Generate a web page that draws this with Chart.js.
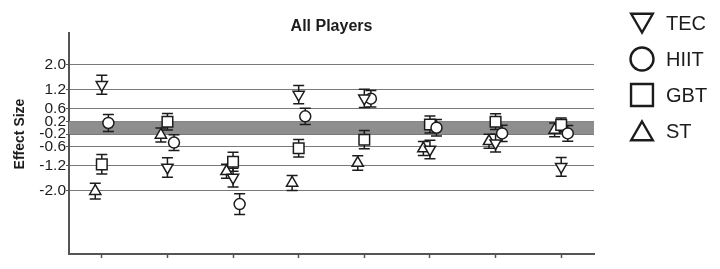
<!DOCTYPE html>
<html lang="en">
<head>
<meta charset="UTF-8">
<title>All Players</title>
<script src="https://cdn.jsdelivr.net/npm/chart.js"></script>
<style>
  body { margin: 0; background: #fff; }
  #wrap { width: 720px; height: 269px; position: relative; }
</style>
</head>
<body>
<div id="wrap"><canvas id="grafica"></canvas></div>
<script>
// 8 outcome measures (unlabelled on the x axis)
const categories = [1, 2, 3, 4, 5, 6, 7, 8];
const yTicks = [2.0, 1.2, 0.6, 0.2, -0.2, -0.6, -1.2, -2.0];
const band = [-0.2, 0.2];

const tecMean  = [1.36, -1.26, -1.58, 1.05, 0.93, -0.69, -0.49, -1.24];
const tecErr   = [0.30, 0.31, 0.30, 0.29, 0.29, 0.29, 0.28, 0.30];
const hiitMean = [0.15, -0.47, -2.42, 0.36, 0.92, 0.00, -0.18, -0.18];
const hiitErr  = [0.27, 0.25, 0.33, 0.26, 0.26, 0.26, 0.26, 0.25];
const gbtMean  = [-1.16, 0.19, -1.08, -0.65, -0.38, 0.10, 0.19, 0.09];
const gbtErr   = [0.31, 0.26, 0.30, 0.28, 0.29, 0.27, 0.25, 0.22];
const stMean   = [-2.01, -0.23, -1.38, -1.75, -1.12, -0.66, -0.43, -0.07];
const stErr    = [0.25, 0.22, 0.22, 0.24, 0.23, 0.22, 0.22, 0.22];

const ink = '#1c1c1c';
Chart.defaults.font.family = "'Liberation Sans', Arial, sans-serif";
Chart.defaults.color = ink;

const serie = (label, means, errs, shift, style, rot, r) => ({
  label, errs,
  data: means.map((v, i) => ({ x: categories[i] + shift, y: v })),
  pointStyle: style, rotation: rot, pointRadius: r, pointHoverRadius: r,
  borderColor: ink, backgroundColor: '#fff', borderWidth: 1.5
});

const datasets = [
  serie('TEC', tecMean, tecErr, 0, 'triangle', 180, 6.5),
  serie('HIIT', hiitMean, hiitErr, 0.1, 'circle', 0, 5.5),
  serie('GBT', gbtMean, gbtErr, 0, 'rect', 0, 7.5),
  serie('ST', stMean, stErr, -0.1, 'triangle', 0, 6.5)
];

const extras = {
  id: 'extras',
  beforeDatasetsDraw(chart) {
    const { ctx, chartArea: a, scales: { x, y } } = chart;
    ctx.save();
    // zona gris entre -0.2 y 0.2
    ctx.fillStyle = '#8e8e8e';
    const y1 = y.getPixelForValue(band[1]), y0 = y.getPixelForValue(band[0]);
    ctx.fillRect(a.left, y1, a.right - a.left, y0 - y1);
    // barras de error
    ctx.strokeStyle = ink; ctx.lineWidth = 1.5;
    chart.data.datasets.forEach(ds => {
      ds.data.forEach((p, i) => {
        const px = x.getPixelForValue(p.x);
        const top = y.getPixelForValue(p.y + ds.errs[i]);
        const bot = y.getPixelForValue(p.y - ds.errs[i]);
        ctx.beginPath();
        ctx.moveTo(px, top); ctx.lineTo(px, bot);
        ctx.moveTo(px - 5.5, top); ctx.lineTo(px + 5.5, top);
        ctx.moveTo(px - 5.5, bot); ctx.lineTo(px + 5.5, bot);
        ctx.stroke();
      });
    });
    ctx.restore();
  },
  afterDraw(chart) {
    const { ctx } = chart;
    ctx.save();
    // titulo eje y
    ctx.translate(20, 134);
    ctx.rotate(-Math.PI / 2);
    ctx.font = "bold 14px 'Liberation Sans', Arial, sans-serif";
    ctx.fillStyle = ink; ctx.textAlign = 'center'; ctx.textBaseline = 'middle';
    ctx.fillText('Effect Size', 0, 0);
    ctx.restore();
    // leyenda
    ctx.save();
    const sizes = [12.5, 11.5, 15.5, 12.5], dy = [-3, 0, 0, 3];
    chart.data.datasets.forEach((ds, i) => {
      const cy = 23 + i * 36;
      ctx.fillStyle = '#fff'; ctx.strokeStyle = ink; ctx.lineWidth = 2.4;
      Chart.helpers.drawPoint(ctx, { pointStyle: ds.pointStyle, rotation: ds.rotation, radius: sizes[i], borderWidth: 2.4 }, 642, cy + dy[i]);
      ctx.fillStyle = ink;
      ctx.font = "20px 'Liberation Sans', Arial, sans-serif";
      ctx.textAlign = 'left'; ctx.textBaseline = 'middle';
      ctx.fillText(ds.label, 666, cy + 1);
    });
    ctx.restore();
  }
};

new Chart(document.getElementById('grafica'), {
  type: 'scatter',
  data: { datasets },
  plugins: [extras],
  options: {
    responsive: true, maintainAspectRatio: false, animation: false,
    layout: { padding: { left: 0, right: 126, top: 0, bottom: 0 } },
    plugins: {
      legend: { display: false },
      tooltip: { enabled: false },
      title: {
        display: true, text: 'All Players', fullSize: false,
        font: { size: 16, weight: 'bold', lineHeight: 0.75 },
        padding: { top: 21, bottom: 0 }, color: ink
      }
    },
    scales: {
      x: {
        type: 'linear', min: 0.5, max: 8.5,
        afterBuildTicks: s => { s.ticks = categories.map(v => ({ value: v })); },
        afterFit: s => { s.height = 15; },
        ticks: { callback: () => '' },
        grid: { drawOnChartArea: false, tickLength: 4, tickColor: '#555', tickWidth: 1.5 },
        border: { color: '#555', width: 2 }
      },
      y: {
        min: -4, max: 3,
        afterBuildTicks: s => { s.ticks = yTicks.map(v => ({ value: v })); },
        afterFit: s => { s.width = 69; },
        ticks: { callback: v => v.toFixed(1), font: { size: 15.5 }, padding: 0, color: ink },
        grid: { color: '#7a7a7a', lineWidth: 1, borderDash: [1, 1], tickLength: 3, tickColor: '#555', tickBorderDash: [] },
        border: { color: '#555', width: 2 }
      }
    }
  }
});
</script>
</body>
</html>
